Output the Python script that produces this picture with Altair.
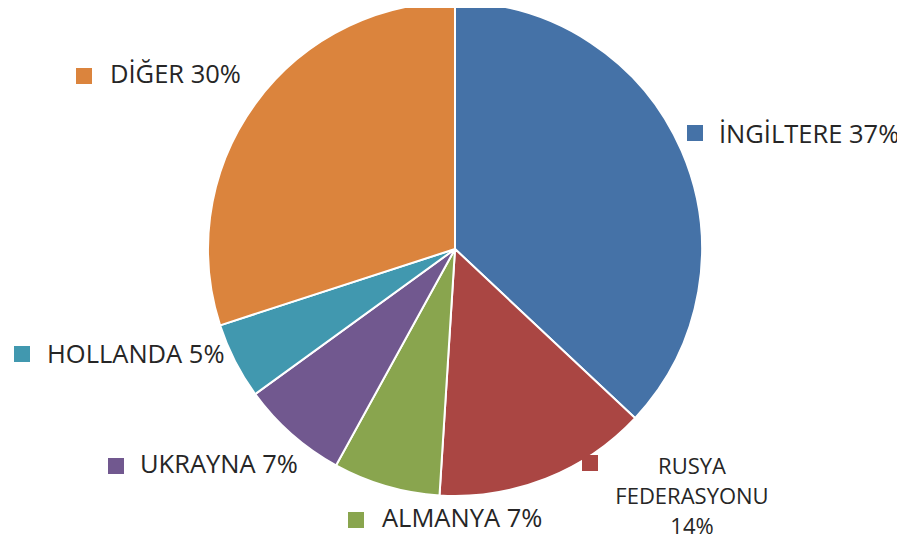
import altair as alt
import pandas as pd

# Data
categories = ["İNGİLTERE", "RUSYA FEDERASYONU", "ALMANYA", "UKRAYNA", "HOLLANDA", "DİĞER"]
values = [37, 14, 7, 7, 5, 30]
labels = ["İNGİLTERE 37%", "RUSYA\nFEDERASYONU\n14%", "ALMANYA 7%", "UKRAYNA 7%", "HOLLANDA 5%", "DİĞER 30%"]
colors = ["#4572A7", "#AA4643", "#89A54E", "#71588F", "#4198AF", "#DB843D"]

# Layout (label placement, plot-area pixels)
marker_x = [687, 582, 348, 108, 14, 76]
marker_y = [125, 455, 512, 458, 346, 68]
text_x = [711, 684, 374, 132, 39, 102]
text_y = [127, 459, 511, 457, 347, 67]
text_align = ["left", "center", "left", "left", "left", "left"]

FONT = "Open Sans"

df = pd.DataFrame({
    "category": categories,
    "value": values,
    "order": list(range(len(categories))),
})
lab = pd.DataFrame({
    "category": categories,
    "label": labels,
    "mx": marker_x,
    "my": marker_y,
    "tx": text_x,
    "ty": text_y,
    "align": text_align,
})

color_scale = alt.Scale(domain=categories, range=colors)

pie = alt.Chart(df).mark_arc(outerRadius=247, stroke="white", strokeWidth=2).encode(
    theta=alt.Theta("value:Q", stack=True),
    order=alt.Order("order:Q"),
    color=alt.Color("category:N", scale=color_scale, legend=None),
    x=alt.value(447),
    y=alt.value(241),
)

markers = alt.Chart(lab).mark_square(size=256, opacity=1).encode(
    x=alt.X("mx:Q", scale=None),
    y=alt.Y("my:Q", scale=None),
    color=alt.Color("category:N", scale=color_scale, legend=None),
)

texts_left = alt.Chart(lab).transform_filter("datum.align == 'left'").mark_text(
    align="left", baseline="middle", font=FONT, fontSize=25.5, color="#262626"
).encode(
    x=alt.X("tx:Q", scale=None),
    y=alt.Y("ty:Q", scale=None),
    text="label:N",
)

texts_center = alt.Chart(lab).transform_filter("datum.align == 'center'").transform_calculate(
    lines="split(datum.label, '\\n')"
).mark_text(
    align="center", baseline="middle", font=FONT, fontSize=22, color="#262626", lineHeight=30
).encode(
    x=alt.X("tx:Q", scale=None),
    y=alt.Y("ty:Q", scale=None),
    text="lines:N",
)

chart = alt.layer(pie, markers, texts_left, texts_center).properties(
    width=889, height=530, padding=0,
    autosize=alt.AutoSizeParams(type="none"),
).configure_view(stroke=None)

chart.save("out.html", embed_options={"renderer": "svg", "actions": False})
